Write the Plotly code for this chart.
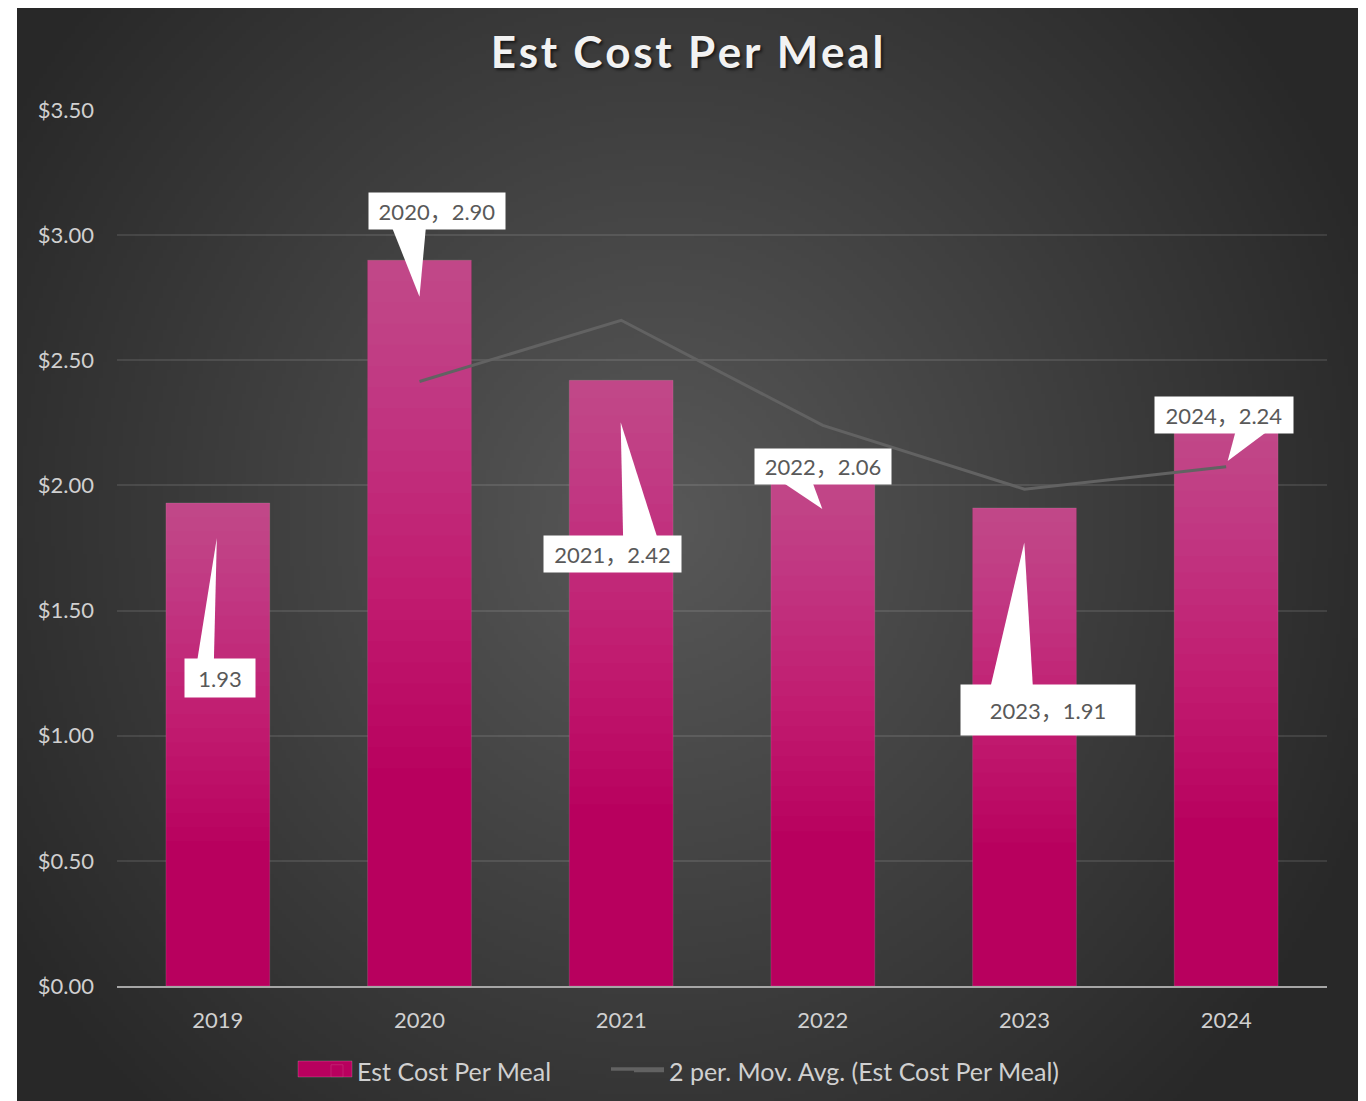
import base64, struct, zlib
import numpy as np
import plotly.graph_objects as go

# ---------------- data ----------------
years = ["2019", "2020", "2021", "2022", "2023", "2024"]
cost_per_meal = [1.93, 2.90, 2.42, 2.06, 1.91, 2.24]
moving_avg = [None, 2.415, 2.66, 2.24, 1.985, 2.075]
label_texts = ["1.93", "2020，2.90", "2021，2.42", "2022，2.06", "2023，1.91", "2024，2.24"]
y_ticks = [0, 0.5, 1.0, 1.5, 2.0, 2.5, 3.0, 3.5]
y_tick_text = ["$0.00", "$0.50", "$1.00", "$1.50", "$2.00", "$2.50", "$3.00", "$3.50"]

# ---------------- callout geometry (pixel offsets from the data point, y up) ----------------
callouts = [
    dict(box=(2, -175, 70, 38), wedge=[(-1, -35), (-21, -160), (-4, -160)]),
    dict(box=(17.5, 49, 136, 36), wedge=[(0, -36.5), (-28, 34), (6.5, 34)]),
    dict(box=(-9, -174, 137, 36), wedge=[(-0.5, -42), (2, -160), (37, -160)]),
    dict(box=(0, 3.5, 136, 35), wedge=[(-0.5, -38.5), (-43, -10), (-11, -10)]),
    dict(box=(23.5, -202, 174, 50), wedge=[(-0.2, -34.5), (-34.5, -181), (8.5, -181)]),
    dict(box=(-2, 10, 138, 36), wedge=[(1.5, -35.7), (10, -4), (44, -4)]),
]

FONT = "Lato, 'Noto Sans CJK SC', sans-serif"
W, H = 1358, 1093
ML, MR, MT, MB = 109, 39, 102, 115
PW, PH = W - ML - MR, H - MT - MB


def fx(px):  # figure px -> paper x
    return (px - ML) / PW


def fy(py):  # figure px (down) -> paper y
    return (H - MB - py) / PH


# ---------------- background radial gradient as PNG ----------------
def png_gray(arr):
    h, w = arr.shape
    raw = b"".join(b"\x00" + arr[j].astype(np.uint8).tobytes() for j in range(h))

    def chunk(t, d):
        return struct.pack(">I", len(d)) + t + d + struct.pack(">I", zlib.crc32(t + d) & 0xFFFFFFFF)

    return (b"\x89PNG\r\n\x1a\n" + chunk(b"IHDR", struct.pack(">IIBBBBB", w, h, 8, 0, 0, 0, 0))
            + chunk(b"IDAT", zlib.compress(raw, 9)) + chunk(b"IEND", b""))


GW, GH = 336, 274
bx0, by0, bw, bh = 9, -3, 1341, 1096  # dark panel in figure px
ii, jj = np.meshgrid(np.arange(GW), np.arange(GH))
sx = bx0 + (ii + 0.5) * bw / GW
sy = by0 + (jj + 0.5) * bh / GH
d = np.sqrt(((sx - 652) / 760) ** 2 + ((sy - 512) / 800) ** 2)
val = 40 + 48 * (1 - np.clip(d, 0, 1))
bg_uri = "data:image/png;base64," + base64.b64encode(png_gray(np.round(val))).decode()

fig = go.Figure()

# main bars
fig.add_trace(go.Bar(
    x=years, y=cost_per_meal, name="Est Cost Per Meal", legend="legend",
    marker=dict(color="#b8005e", line=dict(color="rgba(255,255,255,0.12)", width=1)),
    hoverinfo="skip",
))
# light overlays to imitate the top-down gradient of the bars
K = 24
for k in range(1, K + 1):
    f = 0.7 * k / K
    fig.add_trace(go.Bar(
        x=years, y=[v * f for v in cost_per_meal], base=[v * (1 - f) for v in cost_per_meal],
        marker=dict(color="rgba(255,255,255,0.016)", line=dict(width=0)),
        showlegend=False, hoverinfo="skip",
    ))

# moving average line
fig.add_trace(go.Scatter(
    x=years, y=moving_avg, mode="lines", name="2 per. Mov. Avg. (Est Cost Per Meal)",
    legend="legend2", line=dict(color="#626262", width=3), hoverinfo="skip",
))

shapes = []
annotations = []
for idx, (v, txt, c) in enumerate(zip(cost_per_meal, label_texts, callouts)):
    (t, b1, b2) = c["wedge"]
    path = f"M{t[0]},{t[1]} L{b1[0]},{b1[1]} L{b2[0]},{b2[1]} Z"
    shapes.append(dict(type="path", xref="x", yref="y", xsizemode="pixel", ysizemode="pixel",
                       xanchor=idx, yanchor=v, path=path, fillcolor="white",
                       line=dict(width=0), layer="above"))
    xs, ys, bwid, bhei = c["box"]
    annotations.append(dict(x=idx, y=v, xref="x", yref="y", text=txt, showarrow=False,
                            xshift=xs, yshift=ys, width=bwid, height=bhei, bgcolor="white",
                            borderpad=0, align="center", valign="middle",
                            font=dict(family=FONT, size=22, color="#595959")))

# wider legend swatches, as in the original legend
shapes.append(dict(type="rect", xref="paper", yref="paper", x0=fx(290), x1=fx(344),
                   y0=fy(1069), y1=fy(1053), fillcolor="#b8005e",
                   line=dict(color="rgba(255,255,255,0.18)", width=1), layer="above"))
shapes.append(dict(type="line", xref="paper", yref="paper", x0=fx(603), x1=fx(656),
                   y0=fy(1061), y1=fy(1061), line=dict(color="#626262", width=3.5),
                   layer="above"))

title_text = "\u200a".join("Est Cost Per Meal")
legend_style = dict(orientation="h", xanchor="left", y=fy(1063), yanchor="middle",
                    font=dict(family=FONT, size=25, color="#d0d0d0"), bgcolor="rgba(0,0,0,0)")

fig.update_layout(
    width=W, height=H,
    margin=dict(l=ML, r=MR, t=MT, b=MB, pad=0, autoexpand=False),
    paper_bgcolor="white", plot_bgcolor="rgba(0,0,0,0)",
    barmode="overlay", bargap=0.485,
    images=[dict(source=bg_uri, xref="paper", yref="paper", x=fx(bx0), y=fy(0),
                 sizex=bw / PW, sizey=(H + 3) / PH, sizing="stretch",
                 xanchor="left", yanchor="top", layer="below")],
    title=dict(text=title_text, x=0.5, xanchor="center", xref="container",
               y=1 - 45 / H, yanchor="middle", yref="container",
               font=dict(family=FONT, size=44, color="#f2f2f2", weight="bold",
                         shadow="2px 2px 3px rgba(0,0,0,0.6)")),
    xaxis=dict(type="category", range=[-0.5, 5.5], autorange=False, showgrid=False,
               showline=True, linecolor="#a6a6a6",
               linewidth=2, ticks="", ticklabelstandoff=14,
               tickfont=dict(family=FONT, size=22, color="#d0d0d0"), fixedrange=True),
    yaxis=dict(range=[0, 3.5], autorange=False, tickvals=y_ticks, ticktext=y_tick_text,
               showgrid=True, gridcolor="rgba(255,255,255,0.1)", gridwidth=1.5,
               zeroline=False, showline=False, ticks="", ticklabelstandoff=22,
               tickfont=dict(family=FONT, size=22, color="#d0d0d0"), fixedrange=True),
    legend=dict(x=fx(309), **legend_style),
    legend2=dict(x=fx(621), **legend_style),
    shapes=shapes,
    annotations=annotations,
    showlegend=True,
)

fig.write_html("out.html", config={"displayModeBar": False})
